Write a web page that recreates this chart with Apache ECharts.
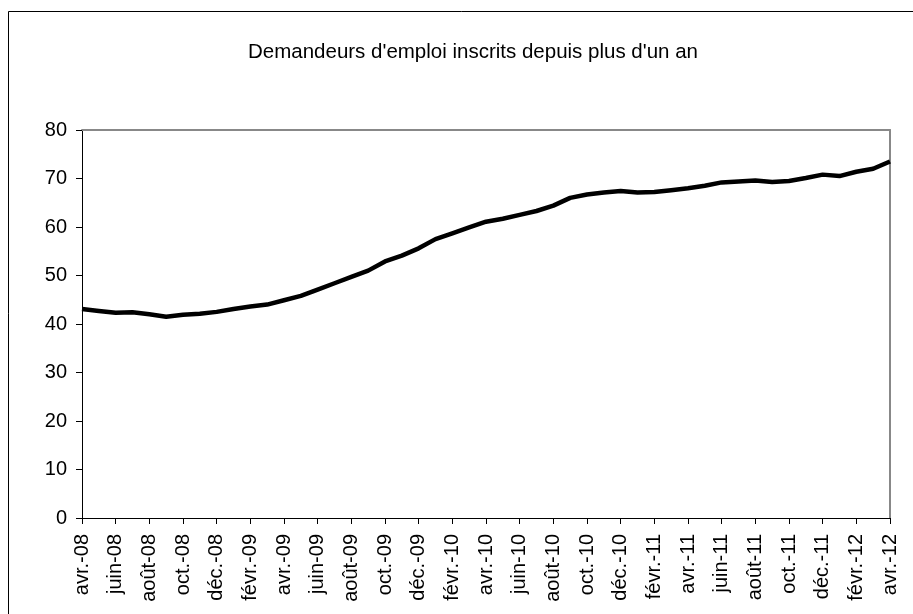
<!DOCTYPE html>
<html>
<head>
<meta charset="utf-8">
<script src="https://cdn.jsdelivr.net/npm/echarts@6/dist/echarts.min.js"></script>
<style>html,body{margin:0;padding:0;background:#fff;}#c{width:913px;height:614px;}</style>
</head>
<body>
<div id="c"></div>
<script>
var titleText = "Demandeurs d'emploi inscrits depuis plus d'un an";
var months = ["avr.-08","mai-08","juin-08","juil.-08","août-08","sept.-08","oct.-08","nov.-08","déc.-08",
  "janv.-09","févr.-09","mars-09","avr.-09","mai-09","juin-09","juil.-09","août-09","sept.-09","oct.-09","nov.-09","déc.-09",
  "janv.-10","févr.-10","mars-10","avr.-10","mai-10","juin-10","juil.-10","août-10","sept.-10","oct.-10","nov.-10","déc.-10",
  "janv.-11","févr.-11","mars-11","avr.-11","mai-11","juin-11","juil.-11","août-11","sept.-11","oct.-11","nov.-11","déc.-11",
  "janv.-12","févr.-12","mars-12","avr.-12"];
var values = [43.1,42.7,42.3,42.4,42.0,41.5,41.9,42.1,42.5,
  43.1,43.6,44.0,44.9,45.8,47.1,48.4,49.7,51.0,52.9,54.1,55.6,
  57.5,58.7,59.9,61.1,61.7,62.5,63.3,64.4,66.0,66.7,67.1,67.4,
  67.1,67.2,67.6,68.0,68.5,69.2,69.4,69.6,69.3,69.5,70.1,70.8,
  70.5,71.4,72.0,73.5];
var yTicks = [0,10,20,30,40,50,60,70,80];

var font = "'Liberation Sans', Arial, sans-serif";
var chart = echarts.init(document.getElementById('c'), null, {renderer:'canvas'});
chart.setOption({
  animation: false,
  backgroundColor: '#fff',
  title: {
    text: titleText, left: 243, top: 37,
    textStyle: {fontFamily: font, fontSize: 20.5, fontWeight: 'normal', color: '#000'}
  },
  graphic: [{
    type: 'rect', shape: {x: 8.5, y: 11.5, width: 1000, height: 1000},
    style: {fill: 'none', stroke: '#000', lineWidth: 1}, silent: true
  }],
  grid: {left: 82, right: 23, top: 130, bottom: 96, containLabel: false},
  xAxis: [{
    type: 'category', data: months, boundaryGap: false,
    axisLine: {onZero: false, lineStyle: {color: '#000', width: 1}},
    axisTick: {show: true, interval: 1, length: 6, inside: false, lineStyle: {color: '#000'}},
    axisLabel: {interval: 1, rotate: 90, margin: 16, fontFamily: font, fontSize: 20, color: '#000'},
    splitLine: {show: false}
  }, {
    type: 'category', data: months, boundaryGap: false, position: 'top',
    axisLine: {show: true, onZero: false, lineStyle: {color: '#888', width: 2}},
    axisTick: {show: false}, axisLabel: {show: false}, splitLine: {show: false}
  }],
  yAxis: [{
    type: 'value', min: yTicks[0], max: yTicks[yTicks.length-1], interval: 10,
    axisLine: {show: true, onZero: false, lineStyle: {color: '#000', width: 1}},
    axisTick: {show: true, length: 6, lineStyle: {color: '#000'}},
    axisLabel: {margin: 15, fontFamily: font, fontSize: 20, color: '#000'},
    splitLine: {show: false}
  }, {
    type: 'value', min: yTicks[0], max: yTicks[yTicks.length-1], interval: 10, position: 'right',
    axisLine: {show: true, onZero: false, lineStyle: {color: '#888', width: 2}},
    axisTick: {show: false}, axisLabel: {show: false}, splitLine: {show: false}
  }],
  series: [{
    type: 'line', data: values, xAxisIndex: 0, yAxisIndex: 0,
    showSymbol: false, symbol: 'none', smooth: false,
    lineStyle: {color: '#000', width: 4.5}
  }]
});
</script>
</body>
</html>
